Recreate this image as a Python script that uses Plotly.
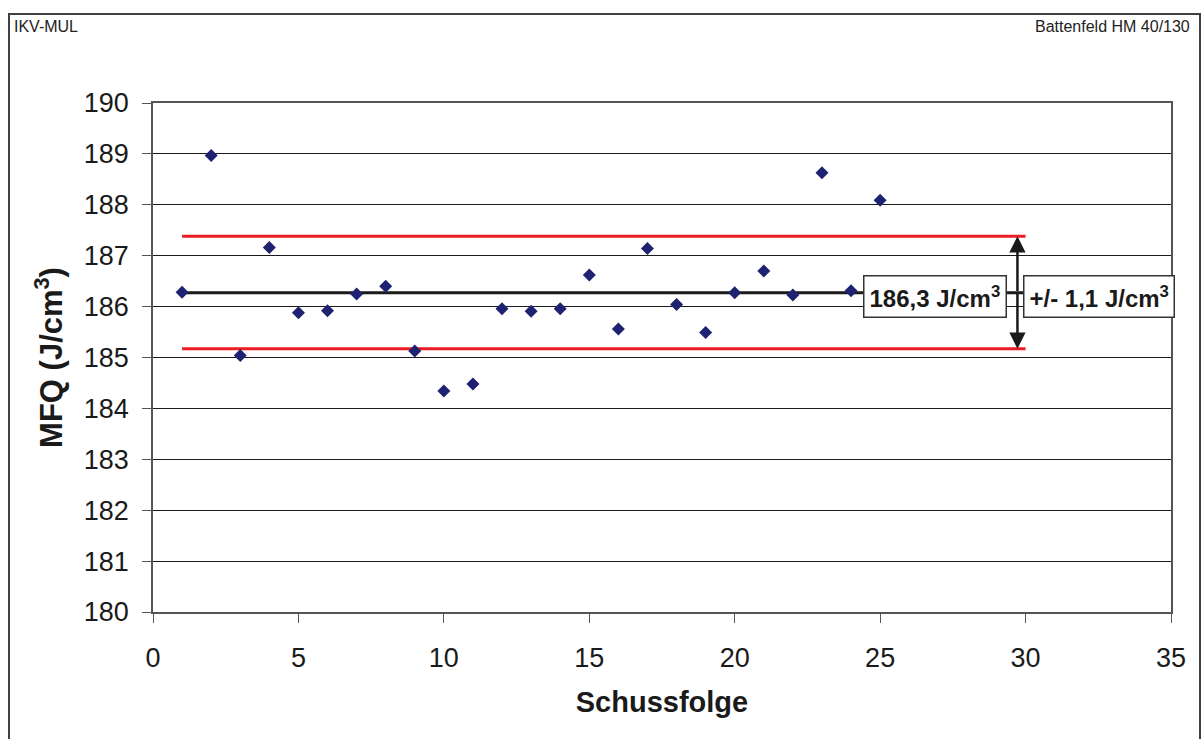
import plotly.graph_objects as go

# Data
shots = list(range(1, 26))
mfq = [186.28, 188.97, 185.04, 187.16, 185.88, 185.92, 186.25, 186.40, 185.13, 184.34,
       184.48, 185.96, 185.91, 185.96, 186.62, 185.56, 187.14, 186.04, 185.49, 186.27,
       186.70, 186.23, 188.63, 186.31, 188.09]
line_x = [1, 30]
mean_val = 186.27
upper_val = 187.38
lower_val = 185.17
arrow_x = 29.72
mean_label = "186,3 J/cm<sup>3</sup>"
spread_label = "+/- 1,1 J/cm<sup>3</sup>"
x_ticks = [0, 5, 10, 15, 20, 25, 30, 35]
y_ticks = list(range(180, 191))

FONT = "Liberation Sans, Arial, sans-serif"
W, H = 1201, 739
L, R, T, B = 153, 30, 103, 127
pw, ph = W - L - R, H - T - B

def px_to_paper_x(px):
    return (px - L) / pw

def px_to_paper_y(py):
    return (H - B - py) / ph

fig = go.Figure()

fig.add_trace(go.Scatter(x=line_x, y=[upper_val] * 2, mode="lines",
                         line=dict(color="#ed1c24", width=3), hoverinfo="skip"))
fig.add_trace(go.Scatter(x=line_x, y=[lower_val] * 2, mode="lines",
                         line=dict(color="#ed1c24", width=3), hoverinfo="skip"))
fig.add_trace(go.Scatter(x=line_x, y=[mean_val] * 2, mode="lines",
                         line=dict(color="#1a1a1a", width=3), hoverinfo="skip"))
fig.add_trace(go.Scatter(x=shots, y=mfq, mode="markers",
                         marker=dict(symbol="diamond", size=10, color="#1f2270")))

# Double-headed arrow
mid = (upper_val + lower_val) / 2
for target in (upper_val, lower_val):
    fig.add_annotation(x=arrow_x, y=target, ax=arrow_x, ay=mid, axref="x", ayref="y",
                       xref="x", yref="y", text="", showarrow=True, arrowhead=2,
                       arrowsize=1.3, arrowwidth=2.5, arrowcolor="#1a1a1a")

fig.add_annotation(x=26.87, y=186.19, xref="x", yref="y", text="<b>" + mean_label + "</b>",
                   showarrow=False, font=dict(family=FONT, size=24, color="#1a1a1a"),
                   bgcolor="white", bordercolor="#333333", borderwidth=1.5, borderpad=5)
fig.add_annotation(x=32.53, y=186.19, xref="x", yref="y", text="<b>" + spread_label + "</b>",
                   showarrow=False, font=dict(family=FONT, size=24, color="#1a1a1a"),
                   bgcolor="white", bordercolor="#333333", borderwidth=1.5, borderpad=5)

# Header texts
fig.add_annotation(x=px_to_paper_x(12), y=px_to_paper_y(26), xref="paper", yref="paper",
                   text="IKV-MUL", showarrow=False, xanchor="left", yanchor="middle",
                   font=dict(family=FONT, size=16, color="#222222"))
fig.add_annotation(x=px_to_paper_x(1192), y=px_to_paper_y(26), xref="paper", yref="paper",
                   text="Battenfeld HM 40/130", showarrow=False, xanchor="right", yanchor="middle",
                   font=dict(family=FONT, size=16, color="#222222"))

# Outer frame
fig.add_shape(type="rect", xref="paper", yref="paper",
              x0=px_to_paper_x(9), x1=px_to_paper_x(1200),
              y0=px_to_paper_y(760), y1=px_to_paper_y(14),
              line=dict(color="#404040", width=2), fillcolor="rgba(0,0,0,0)", layer="below")

fig.update_layout(
    width=W, height=H,
    margin=dict(l=L, r=R, t=T, b=B),
    paper_bgcolor="white", plot_bgcolor="white",
    showlegend=False,
    font=dict(family=FONT, color="#1a1a1a"),
)
fig.update_xaxes(range=[0, 35], tickvals=x_ticks, showgrid=False, zeroline=False,
                 showline=True, linecolor="#555555", linewidth=1.5, mirror=True,
                 ticks="outside", ticklen=9, tickcolor="#555555", ticklabelstandoff=12,
                 tickfont=dict(family=FONT, size=27, color="#1a1a1a"),
                 title=dict(text="<b>Schussfolge</b>", font=dict(family=FONT, size=29, color="#1a1a1a"),
                            standoff=20))
fig.update_yaxes(range=[180, 190], tickvals=y_ticks, showgrid=True, gridcolor="#1a1a1a",
                 gridwidth=1, zeroline=False,
                 showline=True, linecolor="#555555", linewidth=1.5, mirror=True,
                 ticks="outside", ticklen=9, tickcolor="#555555", ticklabelstandoff=8,
                 tickfont=dict(family=FONT, size=27, color="#1a1a1a"),
                 title=dict(text="<b>MFQ (J/cm<sup>3</sup>)</b>",
                            font=dict(family=FONT, size=31, color="#1a1a1a"), standoff=12))

fig.write_html("out.html")
